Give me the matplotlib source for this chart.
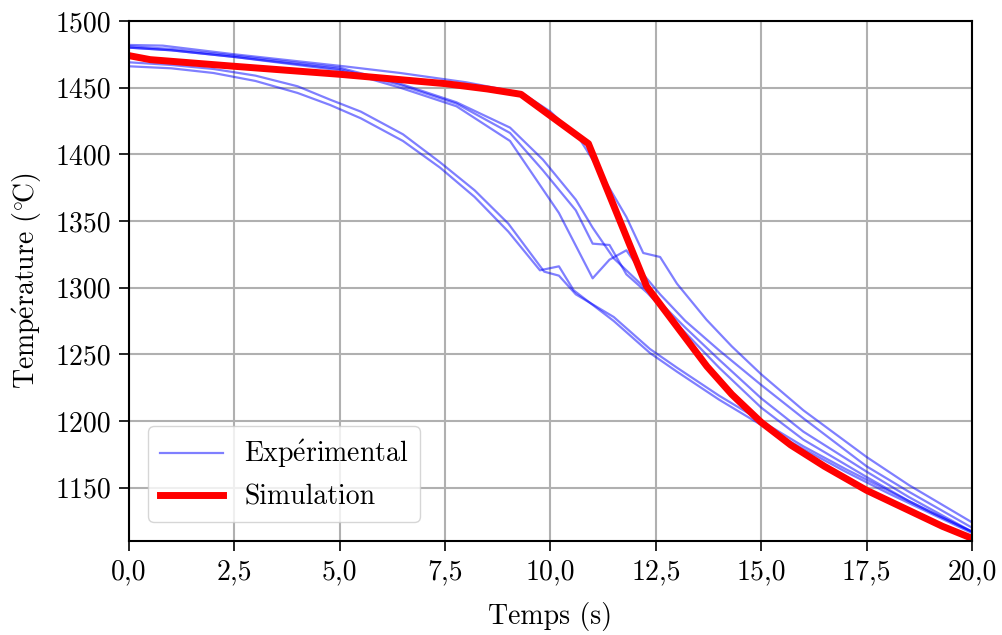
import matplotlib
matplotlib.use("Agg")
import matplotlib.pyplot as plt
from matplotlib.ticker import FuncFormatter

plt.rcParams['font.family'] = ['cmr10', 'DejaVu Serif']
plt.rcParams['mathtext.fontset'] = 'cm'
plt.rcParams['axes.formatter.use_mathtext'] = True
plt.rcParams['font.size'] = 20

# Courbes expérimentales (temps en s, température en °C)
t_e1 = [0, 1, 2, 3, 4, 4.77, 5.5, 6.5, 7.38, 8.2, 9.0, 9.75, 10.2, 10.55, 11.5, 12.36, 13.0, 14.0, 15.0, 16.0, 17.0, 18.0, 19.0, 20.0]
T_e1 = [1466, 1464.5, 1461, 1455, 1446, 1437, 1427, 1410, 1390, 1368, 1342, 1313, 1316, 1298, 1275, 1251, 1237, 1216, 1197, 1179, 1162, 1146, 1131, 1116]

t_e2 = [0, 1, 2, 3, 4, 4.77, 5.5, 6.5, 7.38, 8.2, 9.0, 9.85, 10.2, 10.6, 11.5, 12.36, 13.0, 14.0, 15.0, 16.0, 17.0, 18.0, 19.0, 20.0]
T_e2 = [1469, 1467, 1464, 1459, 1451, 1441, 1432, 1415, 1394, 1373, 1348, 1312, 1309, 1295, 1278, 1254, 1240, 1219, 1200, 1181, 1164, 1148, 1132, 1117]

t_l = [0, 0.8, 2.5, 5.1, 6.43, 8.0, 9.32, 10.0, 10.7, 11.0, 11.8, 12.2, 12.6, 13.0, 13.7, 14.3, 15.0, 16.0, 17.5, 18.5, 20.0]
T_l = [1482, 1481.5, 1475, 1466, 1461, 1454, 1446, 1432, 1411, 1396, 1353, 1326, 1323, 1303, 1276, 1256, 1235, 1208, 1173, 1152, 1124]

t_m1 = [0, 1, 2.5, 5.0, 6.43, 7.77, 9.04, 9.82, 10.6, 11.0, 11.4, 11.8, 12.3, 12.9, 14.0, 15.0, 16.0, 17.5, 18.5, 20.0]
T_m1 = [1480, 1478, 1473, 1464, 1452, 1438, 1416, 1388, 1358, 1333, 1332, 1310, 1296, 1276, 1240, 1210, 1186, 1158, 1140, 1117]

t_m2 = [0, 1, 2.5, 5.0, 6.43, 7.77, 9.04, 10.2, 11.0, 11.4, 11.8, 12.2, 12.6, 13.2, 14.0, 15.0, 16.0, 17.5, 18.5, 20.0]
T_m2 = [1480, 1478, 1473, 1463, 1450, 1436, 1410, 1356, 1307, 1321, 1328, 1310, 1295, 1275, 1253, 1227, 1202, 1166, 1147, 1120]

t_m3 = [0, 1, 2.5, 5.0, 6.43, 7.77, 9.04, 9.82, 10.6, 11.0, 11.5, 12.0, 12.5, 13.2, 14.0, 15.0, 16.0, 17.5, 18.5, 20.0]
T_m3 = [1481, 1479, 1474, 1465, 1453, 1439, 1420, 1396, 1366, 1345, 1322, 1307, 1292, 1270, 1246, 1217, 1192, 1162, 1143, 1117]

# Simulation
t_sim = [0, 0.5, 2.5, 5.0, 7.5, 8.5, 9.3, 10.9, 12.28, 13.71, 14.3, 15.0, 15.7, 16.5, 17.5, 18.5, 19.3, 20.0]
T_sim = [1474, 1471, 1466, 1460, 1453, 1449, 1445, 1408, 1301, 1241, 1220, 1199, 1182, 1166, 1148, 1133, 1121, 1112]

essais = [(t_e1, T_e1), (t_e2, T_e2), (t_l, T_l), (t_m1, T_m1), (t_m2, T_m2), (t_m3, T_m3)]

fig = plt.figure(figsize=(10.03, 6.35), dpi=100)
ax = fig.add_axes([0.1286, 0.148, 0.8405, 0.819])

for i, (t, T) in enumerate(essais):
    ax.plot(t, T, color='blue', alpha=0.5, lw=1.6,
            label=r'Exp$\acute{\rm e}$rimental' if i == 0 else None)
ax.plot(t_sim, T_sim, color='red', lw=5, label='Simulation')

ax.set_xlim(0, 20)
ax.set_ylim(1110, 1500)
ax.set_xticks([0, 2.5, 5, 7.5, 10, 12.5, 15, 17.5, 20])
ax.set_yticks([1150, 1200, 1250, 1300, 1350, 1400, 1450, 1500])
ax.xaxis.set_major_formatter(FuncFormatter(lambda v, p: f"{v:.1f}".replace('.', ',')))
ax.yaxis.set_major_formatter(FuncFormatter(lambda v, p: f"{v:.0f}"))
ax.tick_params(length=7, width=1.2, labelsize=20, pad=6)
for s in ax.spines.values():
    s.set_linewidth(1.5)

ax.grid(True, color='#b0b0b0', lw=1.5)
ax.set_axisbelow(True)

ax.set_xlabel('Temps (s)', labelpad=12)
ax.set_ylabel(r'Temp$\acute{\rm e}$rature (${}^{\circ}\!$C)', labelpad=8)

ax.legend(loc='lower left', handlelength=2.3, handletextpad=0.75,
          borderaxespad=0.7, fancybox=True)

fig.savefig('out.png', dpi=100)
